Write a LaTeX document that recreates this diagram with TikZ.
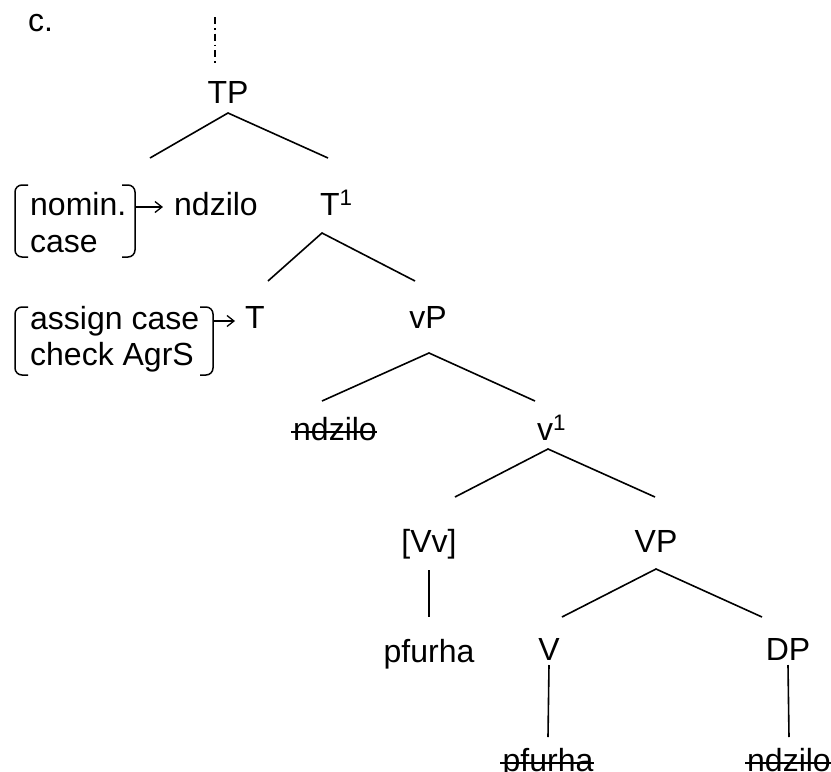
\documentclass[tikz,border=0pt]{standalone}
\usepackage{fontspec}
\setmainfont{Liberation Sans}
\usetikzlibrary{arrows.meta}
\begin{document}
\begin{tikzpicture}[x=1pt,y=-1pt,
  lbl/.style={inner sep=0pt,anchor=base,font=\fontsize{32}{38}\selectfont},
  lblw/.style={lbl,anchor=base west},
  branch/.style={line width=1.6pt},
  strike/.style={line width=1.6pt},
  brk/.style={line width=1.5pt,rounded corners=7pt},
  arr/.style={line width=1.3pt,-{Straight Barb[length=7pt,width=11pt]}},
  dashdot/.style={line width=1.4pt,dash pattern=on 7pt off 4pt on 1.5pt off 4pt}]
\useasboundingbox (0,0) rectangle (831,772);

% labels
\node[lblw] (c) at (28,31) {c.};
\node[lbl] (TP) at (228,103) {TP};
\node[lblw] (nom) at (30,215) {nomin.};
\node[lblw] (case1) at (30,252) {case};
\node[lbl] (nd1) at (216,215) {ndzilo};
\node[lblw] (T1) at (320,215) {T\textsuperscript{1}};
\node[lblw] (asg) at (30,329) {assign case};
\node[lblw] (chk) at (30,365) {check AgrS};
\node[lbl] (T) at (255,328) {T};
\node[lbl] (vP) at (428,328) {vP};
\node[lbl] (nd2) at (335,440) {ndzilo};
\node[lblw] (v1) at (537,440) {v\textsuperscript{1}};
\node[lbl] (Vv) at (429,552) {[Vv]};
\node[lbl] (VP) at (656,552) {VP};
\node[lbl] (pf1) at (429,662) {pfurha};
\node[lbl] (V) at (549,660) {V};
\node[lbl] (DP) at (788,660) {DP};
\node[lbl] (pf2) at (548,771) {pfurha};
\node[lbl] (nd3) at (789,771) {ndzilo};

% struck-out copies
\foreach \n in {nd2,pf2,nd3}
  \draw[strike] ([xshift=-2pt,yshift=8pt]\n.base west) -- ([yshift=8pt]\n.base east);

% dotted stem above TP
\coordinate (stemtop) at (215,17);
\coordinate (stembot) at (215,65);
\draw[dashdot] (stemtop) -- (stembot);

% branch points
\coordinate (TPa) at (228,113);  \coordinate (TPl) at (150,158);  \coordinate (TPr) at (328,158);
\coordinate (T1a) at (322,233);  \coordinate (T1l) at (268,281);  \coordinate (T1r) at (415,281);
\coordinate (vPa) at (429,353);  \coordinate (vPl) at (322,401);  \coordinate (vPr) at (535,401);
\coordinate (v1a) at (548,449);  \coordinate (v1l) at (455,497);  \coordinate (v1r) at (655,497);
\coordinate (VPa) at (656,569);  \coordinate (VPl) at (562,617);  \coordinate (VPr) at (762,617);

\draw[branch] (TPl) -- (TPa) -- (TPr);
\draw[branch] (T1l) -- (T1a) -- (T1r);
\draw[branch] (vPl) -- (vPa) -- (vPr);
\draw[branch] (v1l) -- (v1a) -- (v1r);
\draw[branch] (VPl) -- (VPa) -- (VPr);

% unary branches
\draw[branch] ([yshift=-18pt]Vv.base) -- ([yshift=45pt]pf1.base);
\draw[branch] ([yshift=-5pt]V.base) -- ([yshift=34pt]pf2.base);
\draw[branch] ([yshift=-5pt]DP.base) -- ([yshift=34pt]nd3.base);

% feature brackets
\draw[brk] (28,185) -- (15,185) -- (15,257) -- (28,257);
\draw[brk] (122,185) -- (135,185) -- (135,257) -- (122,257);
\draw[brk] (28,307) -- (15,307) -- (15,375) -- (28,375);
\draw[brk] (200,307) -- (213,307) -- (213,375) -- (200,375);

% arrows from brackets
\coordinate (br1) at (135,207);
\coordinate (br2) at (213,321);
\draw[arr] (br1) -- ([xshift=-11pt]nd1.west |- br1);
\draw[arr] (br2) -- ([xshift=-10pt]T.west |- br2);
\end{tikzpicture}
\end{document}
